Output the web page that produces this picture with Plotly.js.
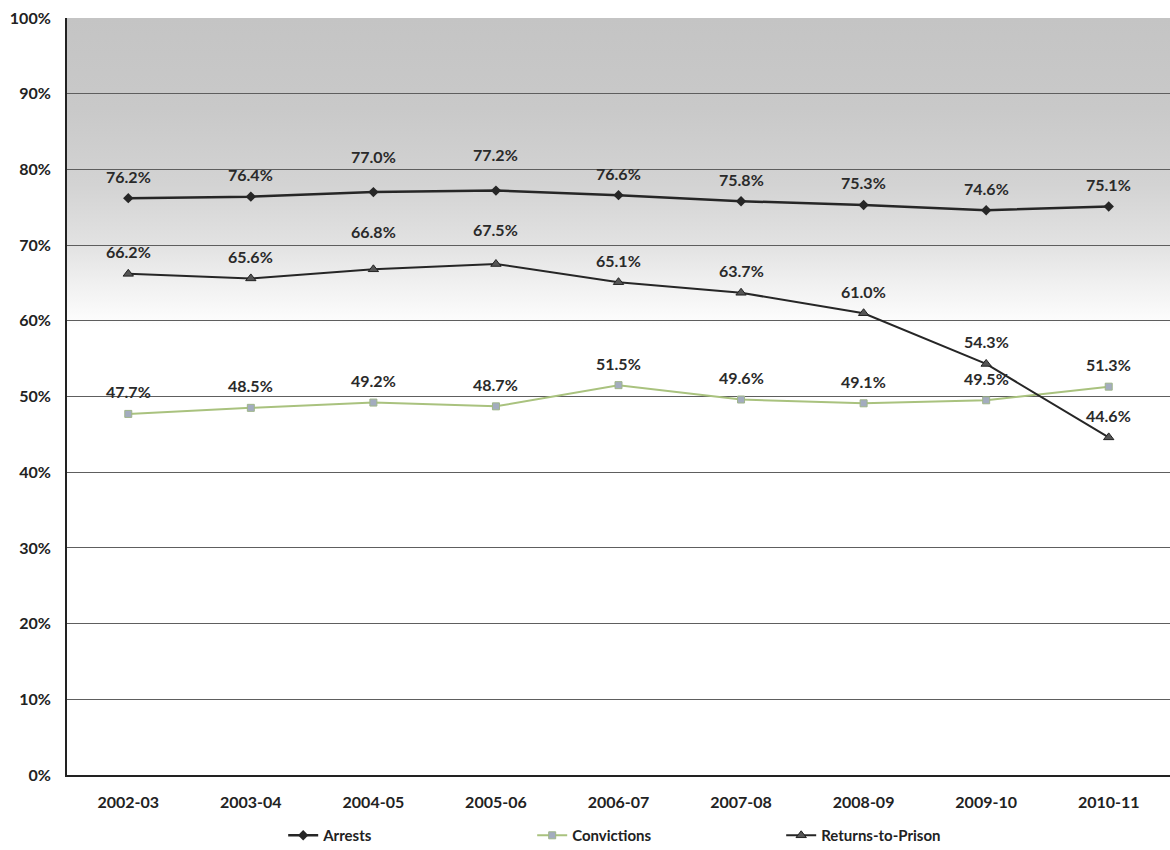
<!DOCTYPE html>
<html>
<head>
<meta charset="utf-8">
<script src="https://cdn.plot.ly/plotly-3.0.1.min.js"></script>
<style>html,body{margin:0;padding:0;background:#fff}#chart{width:1170px;height:850px}</style>
</head>
<body>
<div id="chart"></div>
<script>
const years = ["2002-03","2003-04","2004-05","2005-06","2006-07","2007-08","2008-09","2009-10","2010-11"];
const arrests = [76.2, 76.4, 77.0, 77.2, 76.6, 75.8, 75.3, 74.6, 75.1];
const convictions = [47.7, 48.5, 49.2, 48.7, 51.5, 49.6, 49.1, 49.5, 51.3];
const returnsToPrison = [66.2, 65.6, 66.8, 67.5, 65.1, 63.7, 61.0, 54.3, 44.6];
const seriesNames = ["Arrests", "Convictions", "Returns-to-Prison"];

const FONT = "Lato, 'Open Sans', sans-serif";

const traces = [
  {
    x: years, y: arrests, name: seriesNames[0], type: "scatter", mode: "lines+markers",
    line: {color: "#262626", width: 2.5},
    marker: {symbol: "diamond", size: 8, color: "#262626"}
  },
  {
    x: years, y: convictions, name: seriesNames[1], type: "scatter", mode: "lines+markers",
    line: {color: "#a9c27e", width: 2},
    marker: {symbol: "square", size: 7, color: "#a3acbf", line: {color: "#9fb58a", width: 1}}
  },
  {
    x: years, y: returnsToPrison, name: seriesNames[2], type: "scatter", mode: "lines+markers",
    line: {color: "#262626", width: 2},
    marker: {symbol: "triangle-up", size: 9, color: "#555", line: {color: "#222", width: 1}}
  }
];

// data labels, drawn from the data arrays
const raised = {"0-2": 36, "0-3": 36, "2-2": 38, "2-3": 35};
const annotations = [];
[arrests, convictions, returnsToPrison].forEach((vals, s) => {
  vals.forEach((v, i) => {
    annotations.push({
      x: years[i], y: v, xref: "x", yref: "y",
      text: v.toFixed(1) + "%", showarrow: false,
      yshift: raised[s + "-" + i] || 22,
      font: {family: FONT, size: 16, color: "#2a2a2a", weight: 700}
    });
  });
});

const gradSvg = '<svg xmlns="http://www.w3.org/2000/svg" width="10" height="100" preserveAspectRatio="none">' +
  '<defs><linearGradient id="g" x1="0" y1="0" x2="0" y2="1">' +
  '<stop offset="0" stop-color="#c4c4c4"/>' +
  '<stop offset="0.12" stop-color="#c9c9c9"/>' +
  '<stop offset="0.22" stop-color="#d3d3d3"/>' +
  '<stop offset="0.30" stop-color="#e2e2e2"/>' +
  '<stop offset="0.35" stop-color="#f0f0f0"/>' +
  '<stop offset="0.41" stop-color="#ffffff"/>' +
  '<stop offset="1" stop-color="#ffffff"/>' +
  '</linearGradient></defs><rect width="10" height="100" fill="url(#g)"/></svg>';

const layout = {
  width: 1170, height: 850,
  margin: {l: 67, r: 0, t: 18, b: 75, autoexpand: false},
  paper_bgcolor: "#ffffff",
  plot_bgcolor: "rgba(0,0,0,0)",
  font: {family: FONT, color: "#222"},
  showlegend: true,
  legend: {
    orientation: "h", x: 0.196, xanchor: "left", y: -0.08, yanchor: "middle",
    entrywidth: 204, entrywidthmode: "pixels",
    font: {family: FONT, size: 15, color: "#222", weight: 700},
    bgcolor: "rgba(0,0,0,0)"
  },
  xaxis: {
    type: "category", range: [-0.5, 8.5], automargin: false,
    showline: true, linecolor: "#222", linewidth: 2,
    showgrid: false, zeroline: false,
    ticks: "outside", ticklen: 12, tickcolor: "rgba(0,0,0,0)",
    tickfont: {family: FONT, size: 16, color: "#222", weight: 700}
  },
  yaxis: {
    range: [0, 100], dtick: 10, ticksuffix: "%", automargin: false,
    showline: true, linecolor: "#222", linewidth: 2,
    showgrid: true, gridcolor: "#5e5e5e", gridwidth: 1,
    zeroline: false,
    ticks: "outside", ticklen: 11, tickcolor: "rgba(0,0,0,0)",
    tickfont: {family: FONT, size: 16, color: "#222", weight: 700}
  },
  images: [{
    source: "data:image/svg+xml;charset=utf-8," + encodeURIComponent(gradSvg),
    xref: "paper", yref: "paper", x: 0, y: 1, sizex: 1, sizey: 1,
    sizing: "stretch", xanchor: "left", yanchor: "top", layer: "below"
  }],
  annotations: annotations
};

Plotly.newPlot("chart", traces, layout, {displayModeBar: false, staticPlot: true});
</script>
</body>
</html>
